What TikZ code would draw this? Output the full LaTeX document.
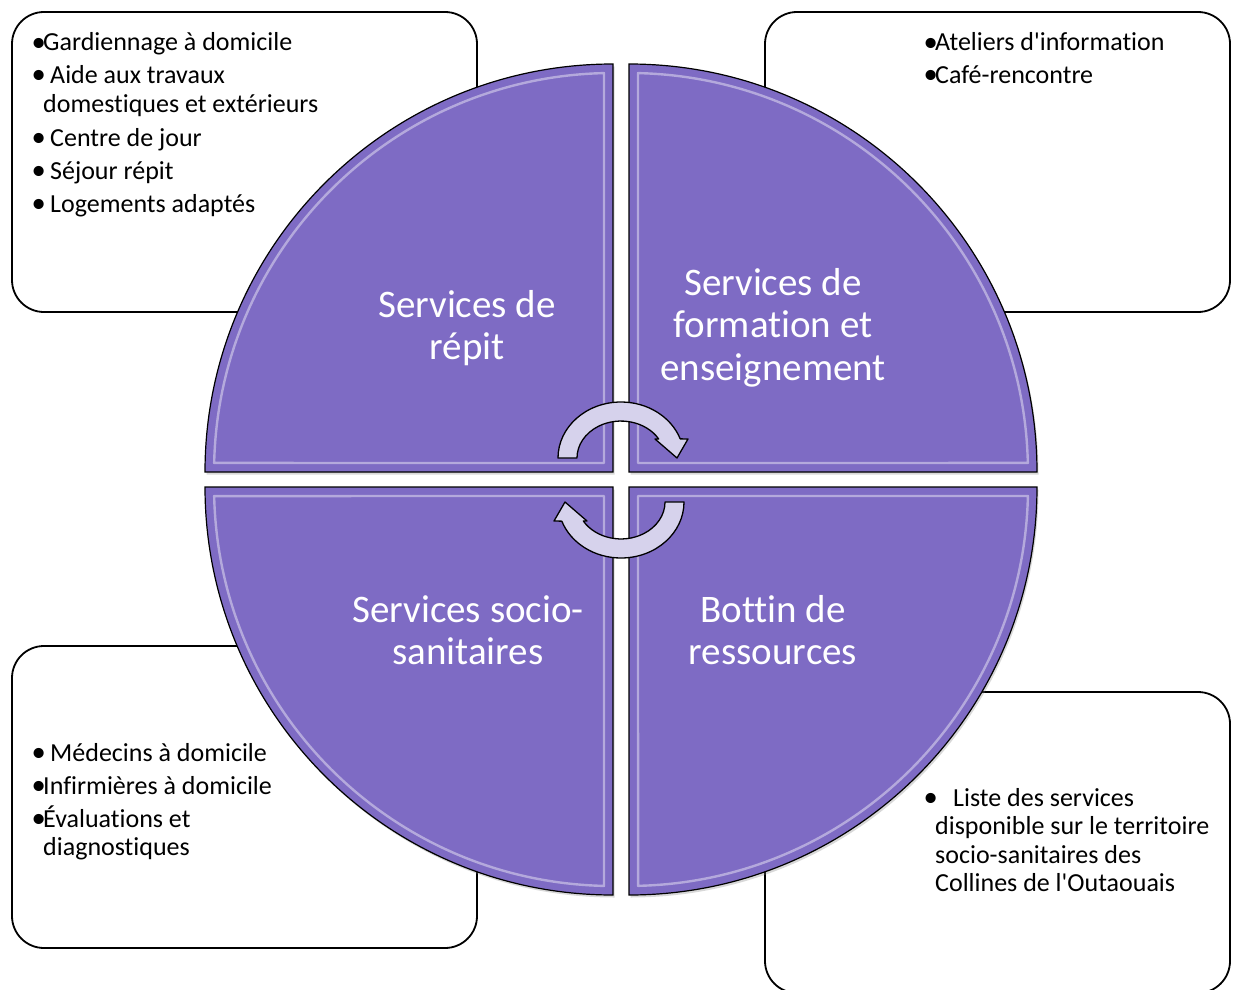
\documentclass[tikz,border=0pt]{standalone}
\usepackage{fontspec}
\newfontfamily\calib{Carlito}[Ligatures=CommonOff]
\usetikzlibrary{shadows}
\definecolor{quad}{RGB}{126,107,196}
\definecolor{arrowfill}{RGB}{214,210,236}
\newcommand\blt[1]{\makebox[#1][l]{\hspace{-1.5pt}\raisebox{-0.8pt}{\scalebox{1.1}{•}}}}
\begin{document}
\begin{tikzpicture}[x=1pt,y=-1pt,
  infobox/.style={draw=black, line width=1.8pt, fill=white, rounded corners=32pt},
  quadrant/.style={fill=quad, draw=black, line width=1.2pt,
     drop shadow={shadow xshift=1.5pt, shadow yshift=-2.5pt, opacity=0.3}},
  bevel/.style={draw=white, draw opacity=0.42, line width=2.4pt, line join=round},
  body/.style={font=\calib\fontsize{26}{29}\selectfont, anchor=base west, inner sep=0pt},
  title/.style={font=\calib\fontsize{39}{42}\selectfont, text=white, anchor=base, inner sep=0pt},
  cyc/.style={fill=arrowfill, draw=black, line width=1.3pt, line join=round}]

\useasboundingbox (0,0) rectangle (1234,990);
\fill[white] (0,0) rectangle (1234,990);

% text boxes
\draw[infobox] (12,12) rectangle (477,312);
\draw[infobox] (765,12) rectangle (1230,312);
\draw[infobox] (12,646) rectangle (477,948);
\draw[infobox] (765,692) rectangle (1230,993);

% quadrants
\path[quadrant] (613,472) -- (205,472) arc[start angle=180, end angle=270, radius=408] -- cycle;
\path[quadrant] (629,472) -- (629,64) arc[start angle=270, end angle=360, radius=408] -- cycle;
\path[quadrant] (613,487) -- (613,895) arc[start angle=90, end angle=180, radius=408] -- cycle;
\path[quadrant] (629,487) -- (1037,487) arc[start angle=0, end angle=90, radius=408] -- cycle;

% bevel highlights
\draw[bevel] (604,463) -- (604,73.1) arc[start angle=268.7, end angle=181.3, radius=399] -- cycle;
\draw[bevel] (638,463) -- (638,73.1) arc[start angle=271.3, end angle=358.7, radius=399] -- cycle;
\draw[bevel] (604,496) -- (604,885.9) arc[start angle=91.3, end angle=178.7, radius=399] -- cycle;
\draw[bevel] (638,496) -- (1027.9,496) arc[start angle=1.3, end angle=88.7, radius=399] -- cycle;

% circular arrows
\draw[cyc] (558,458) arc[start angle=180, end angle=340, x radius=63, y radius=56]
  -- (688,439) -- (677,458) -- (655,439) -- (658.7,439)
  arc[start angle=329, end angle=180, x radius=44, y radius=37] -- cycle;
\draw[cyc] (684,502) arc[start angle=0, end angle=160, x radius=63, y radius=56]
  -- (554,521) -- (565,502) -- (587,521) -- (583.3,521)
  arc[start angle=149, end angle=0, x radius=44, y radius=37] -- cycle;

% quadrant titles
\node[title] (q1a) at (467,317) {Services de};
\node[title] (q1b) at (467,359) {répit};
\node[title] (q2a) at (773,295) {Services de};
\node[title] (q2b) at (773,337) {formation et};
\node[title] (q2c) at (773,380) {enseignement};
\node[title] (q3a) at (468,622) {Services socio-};
\node[title] (q3b) at (468,664) {sanitaires};
\node[title] (q4a) at (773,622) {Bottin de};
\node[title] (q4b) at (773,664) {ressources};

% box texts
\node[body] (t1) at (33,51) {\blt{10pt}Gardiennage à domicile};
\node[body] (t2) at (33,83) {\blt{17pt}Aide aux travaux};
\node[body] (t3) at (43,112) {domestiques et extérieurs};
\node[body] (t4) at (33,146) {\blt{17pt}Centre de jour};
\node[body] (t5) at (33,179) {\blt{17pt}Séjour répit};
\node[body] (t6) at (33,212) {\blt{17pt}Logements adaptés};

\node[body] (r1) at (925,51) {\blt{10pt}Ateliers d'information};
\node[body] (r2) at (925,83) {\blt{10pt}Café-rencontre};

\node[body] (l1) at (33,761) {\blt{17pt}Médecins à domicile};
\node[body] (l2) at (33,794) {\blt{10pt}Infirmières à domicile};
\node[body] (l3) at (33,827) {\blt{10pt}Évaluations et};
\node[body] (l4) at (43,855) {diagnostiques};

\node[body] (m1) at (925,806) {\blt{28pt}Liste des services};
\node[body] (m2) at (935,834) {disponible sur le territoire};
\node[body] (m3) at (935,863) {socio-sanitaires des};
\node[body] (m4) at (935,891) {Collines de l'Outaouais};
\end{tikzpicture}
\end{document}
